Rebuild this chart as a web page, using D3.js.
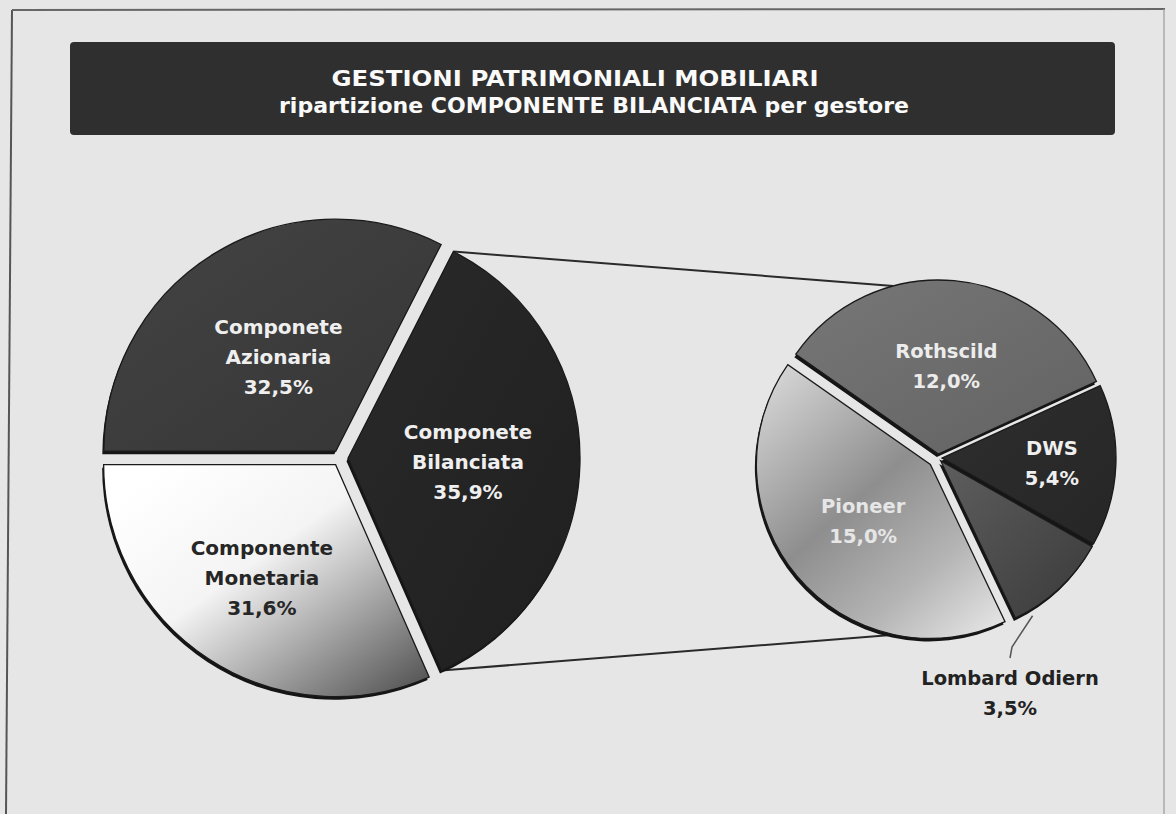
<!DOCTYPE html>
<html><head><meta charset="utf-8">
<script src="https://cdn.jsdelivr.net/npm/d3@7"></script>
<style>
html,body{margin:0;padding:0;background:#e6e6e6;}
svg{display:block;}
</style>
</head><body>
<svg id="chart" width="1176" height="814"></svg>
<script>
// ---------- data ----------
const titleLines = ["GESTIONI PATRIMONIALI MOBILIARI", "ripartizione COMPONENTE BILANCIATA per gestore"];

const mainCategories = ["Componete Bilanciata", "Componente Monetaria", "Componete Azionaria"];
const mainLabelLines = [["Componete", "Bilanciata"], ["Componente", "Monetaria"], ["Componete", "Azionaria"]];
const mainValues = [35.9, 31.6, 32.5];

const detailCategories = ["Rothscild", "DWS", "Lombard Odiern", "Pioneer"];
const detailValues = [12.0, 5.4, 3.5, 15.0];

// ---------- layout / style ----------
const deg = Math.PI / 180;
const itLocale = d3.formatLocale({decimal: ",", thousands: ".", grouping: [3], currency: ["€", ""]});
const pct = v => itLocale.format(".1f")(v) + "%";

const mainLayout = {
  cx: 340, cy: 458, r: 232, start: 27 * deg,
  explode: [8, 8, 8],
  labelR: [128, 143, 118],
  fills: ["url(#gBil)", "url(#gMon)", "url(#gAz)"],
  textFill: ["#efefef", "#262626", "#efefef"]
};
const detailLayout = {
  cx: 938, cy: 458, r: 174, start: -55 * deg,
  explode: [4, 4, 4, 10],
  labelR: [92, 114, null, 98],
  fills: ["url(#gRot)", "url(#gDws)", "url(#gLom)", "url(#gPio)"],
  textFill: ["#ececec", "#efefef", "#222", "#e6e6e6"],
  outside: {index: 2, frac: 0.85, bend: [1012, 647], top: [1010, 658], x: 1010, y: 685}
};

const svg = d3.select("#chart");
const defs = svg.append("defs");

function linGrad(id, x1, y1, x2, y2, stops) {
  const g = defs.append("linearGradient").attr("id", id)
    .attr("x1", x1).attr("y1", y1).attr("x2", x2).attr("y2", y2);
  stops.forEach(s => g.append("stop").attr("offset", s[0]).attr("stop-color", s[1]));
}
linGrad("gBil", 0, 0, 1, 1, [[0, "#2a2a2a"], [1, "#1f1f1f"]]);
linGrad("gAz", 0, 0, 1, 1, [[0, "#444"], [1, "#353535"]]);
linGrad("gMon", 0.1, 0.1, 0.95, 0.95, [[0, "#ffffff"], [0.4, "#f4f4f4"], [0.7, "#a8a8a8"], [1, "#5a5a5a"]]);
linGrad("gRot", 0, 0, 1, 1, [[0, "#777"], [1, "#626262"]]);
linGrad("gDws", 0, 0, 1, 1, [[0, "#2e2e2e"], [1, "#262626"]]);
linGrad("gLom", 0, 0, 1, 1, [[0, "#5e5e5e"], [1, "#3a3a3a"]]);
linGrad("gPio", 0.1, 0, 0.9, 1, [[0, "#d6d6d6"], [0.45, "#8e8e8e"], [0.75, "#b4b4b4"], [1, "#e2e2e2"]]);

// background frame (scanned page border)
svg.append("rect").attr("width", 1176).attr("height", 814).attr("fill", "#e6e6e6");
svg.append("path").attr("d", "M12,10 L6,814").attr("stroke", "#555").attr("stroke-width", 2).attr("fill", "none");
svg.append("path").attr("d", "M12,10 L1165,9").attr("stroke", "#666").attr("stroke-width", 2).attr("fill", "none");
svg.append("path").attr("d", "M1164,9 L1164,814").attr("stroke", "#999").attr("stroke-width", 1.2).attr("fill", "none");

// title box
svg.append("rect").attr("x", 70).attr("y", 42).attr("width", 1045).attr("height", 93)
  .attr("rx", 4).attr("fill", "#2f2f2f");
const tl = [{x: 575, y: 86, len: 487}, {x: 594, y: 113, len: 630}];
titleLines.forEach((t, i) => {
  svg.append("text").attr("x", tl[i].x).attr("y", tl[i].y)
    .attr("text-anchor", "middle")
    .attr("font-family", "DejaVu Sans, sans-serif").attr("font-weight", "bold")
    .attr("font-size", 22).attr("fill", "#fafafa")
    .attr("textLength", tl[i].len).attr("lengthAdjust", "spacingAndGlyphs")
    .text(t);
});

function drawPie(values, lay) {
  const pie = d3.pie().sort(null).value(d => d)
    .startAngle(lay.start).endAngle(lay.start + 2 * Math.PI);
  const arcs = pie(values);
  const arc = d3.arc().innerRadius(0).outerRadius(lay.r);
  const g = svg.append("g").attr("transform", `translate(${lay.cx},${lay.cy})`);
  arcs.forEach((a, i) => {
    const mid = (a.startAngle + a.endAngle) / 2;
    a.ox = lay.explode[i] * Math.sin(mid);
    a.oy = -lay.explode[i] * Math.cos(mid);
    a.mid = mid;
  });
  // shadows
  g.selectAll("path.sh").data(arcs).enter().append("path").attr("class", "sh")
    .attr("d", arc).attr("fill", "#151515")
    .attr("transform", d => `translate(${d.ox - 1.5},${d.oy + 3})`);
  // slices
  g.selectAll("path.sl").data(arcs).enter().append("path").attr("class", "sl")
    .attr("d", arc).attr("fill", (d, i) => lay.fills[i])
    .attr("stroke", "#1a1a1a").attr("stroke-width", 1.3)
    .attr("transform", d => `translate(${d.ox},${d.oy})`);
  return {arcs, arc, g};
}

// ---------- main pie ----------
const main = drawPie(mainValues, mainLayout);
main.arcs.forEach((a, i) => {
  const R = mainLayout.labelR[i];
  const x = R * Math.sin(a.mid), y = -R * Math.cos(a.mid);
  const lines = [...mainLabelLines[i], pct(mainValues[i])];
  const t = main.g.append("text").attr("text-anchor", "middle")
    .attr("font-family", "DejaVu Sans, sans-serif").attr("font-weight", "bold")
    .attr("font-size", 20).attr("fill", mainLayout.textFill[i]);
  lines.forEach((l, k) => t.append("tspan").attr("x", x).attr("y", y + 7 + (k - 1) * 30).text(l));
});

// ---------- detail pie ----------
const det = drawPie(detailValues, detailLayout);

// connector lines from the "Bilanciata" slice to the detail pie
const bil = main.arcs[0];
const bTop = [mainLayout.cx + bil.ox + mainLayout.r * Math.sin(bil.startAngle),
              mainLayout.cy + bil.oy - mainLayout.r * Math.cos(bil.startAngle)];
const bBot = [mainLayout.cx + bil.ox + mainLayout.r * Math.sin(bil.endAngle),
              mainLayout.cy + bil.oy - mainLayout.r * Math.cos(bil.endAngle)];
const rot = det.arcs[0], pio = det.arcs[3];
const aTop = -15 * deg, aBot = 192 * deg;
const dTop = [detailLayout.cx + rot.ox + detailLayout.r * Math.sin(aTop),
              detailLayout.cy + rot.oy - detailLayout.r * Math.cos(aTop)];
const dBot = [detailLayout.cx + pio.ox + detailLayout.r * Math.sin(aBot),
              detailLayout.cy + pio.oy - detailLayout.r * Math.cos(aBot)];
svg.insert("path", "g").attr("d", `M${bTop}L${dTop}`).attr("stroke", "#2a2a2a").attr("stroke-width", 2).attr("fill", "none");
svg.insert("path", "g").attr("d", `M${bBot}L${dBot}`).attr("stroke", "#2a2a2a").attr("stroke-width", 2).attr("fill", "none");

det.arcs.forEach((a, i) => {
  const lines = [detailCategories[i], pct(detailValues[i])];
  if (i === detailLayout.outside.index) {
    const o = detailLayout.outside;
    const ang = a.startAngle + o.frac * (a.endAngle - a.startAngle);
    const sx = detailLayout.cx + a.ox + (detailLayout.r + 6) * Math.sin(ang);
    const sy = detailLayout.cy + a.oy - (detailLayout.r + 6) * Math.cos(ang);
    svg.append("path").attr("d", `M${sx},${sy}L${o.bend}L${o.top}`)
      .attr("stroke", "#555").attr("stroke-width", 1.5).attr("fill", "none");
    const t = svg.append("text").attr("text-anchor", "middle")
      .attr("font-family", "DejaVu Sans, sans-serif").attr("font-weight", "bold")
      .attr("font-size", 19.5).attr("fill", detailLayout.textFill[i]);
    lines.forEach((l, k) => t.append("tspan").attr("x", o.x).attr("y", o.y + k * 30).text(l));
    return;
  }
  const R = detailLayout.labelR[i];
  const x = R * Math.sin(a.mid), y = -R * Math.cos(a.mid);
  const t = det.g.append("text").attr("text-anchor", "middle")
    .attr("font-family", "DejaVu Sans, sans-serif").attr("font-weight", "bold")
    .attr("font-size", 19.5).attr("fill", detailLayout.textFill[i]);
  lines.forEach((l, k) => t.append("tspan").attr("x", x).attr("y", y + 7 + (k - 0.5) * 30).text(l));
});
</script>
</body></html>
